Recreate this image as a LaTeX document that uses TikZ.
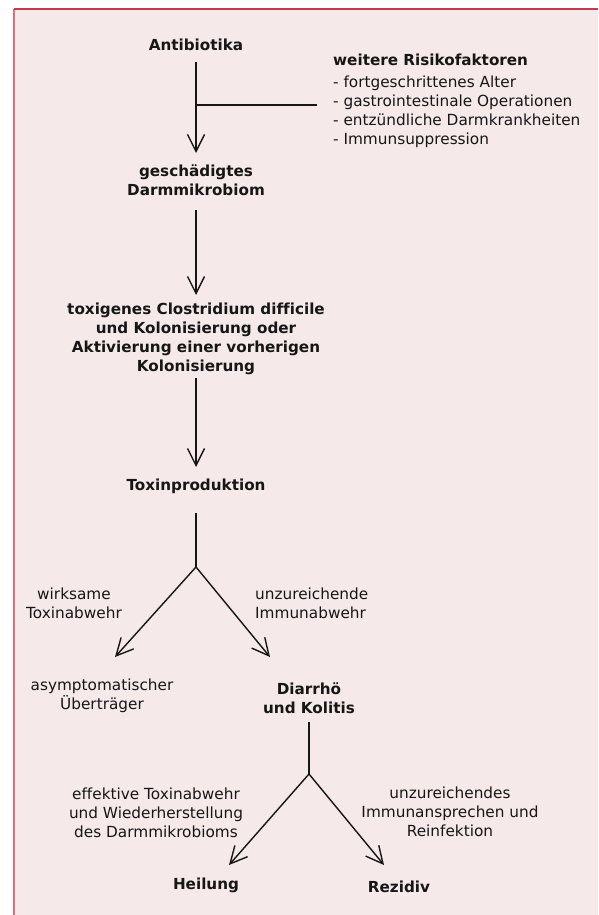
\documentclass[tikz,border=0pt]{standalone}
\usepackage{fontspec}
\setmainfont{DejaVu Sans}[Ligatures=NoCommon]
\usetikzlibrary{arrows.meta,calc}
\definecolor{bgpink}{RGB}{245,233,234}
\definecolor{topred}{RGB}{196,58,78}
\definecolor{leftred}{RGB}{214,110,124}
\definecolor{ink}{RGB}{22,22,22}
\begin{document}
\begin{tikzpicture}[x=1pt,y=-1pt,
  txt/.style={inner sep=0pt,text=ink,font=\fontsize{15.3}{19}\selectfont,align=center},
  btxt/.style={txt,font=\fontsize{15.2}{19}\selectfont\bfseries},
  ln/.style={draw=ink,line width=1.4pt},
  arr/.style={ln,-{Straight Barb[length=17pt,width=17pt,line width=1.4pt]}}]
\useasboundingbox (0,0) rectangle (598,915);
\fill[bgpink] (14,9) rectangle (598,915);
\draw[leftred,line width=1.6pt] (14,9) -- (14,915);
\draw[topred,line width=1.3pt] (14,9) -- (598,9);

\node[btxt] (anti) at (196,45) {Antibiotika};
\node[btxt,anchor=west] (rtitle) at (333,60) {weitere Risikofaktoren};
\node[txt,anchor=west,align=left] (rlist) at (333,111.5) {- fortgeschrittenes Alter\\- gastrointestinale Operationen\\- entzündliche Darmkrankheiten\\- Immunsuppression};
\node[btxt] (ges) at (196,180.5) {geschädigtes\\Darmmikrobiom};
\node[btxt] (clos) at (196,338.5) {toxigenes Clostridium difficile\\und Kolonisierung oder\\Aktivierung einer vorherigen\\Kolonisierung};
\node[btxt] (tox) at (196,486) {Toxinproduktion};
\node[txt] (wirk) at (74,603) {wirksame\\Toxinabwehr};
\node[txt,anchor=west,align=left] (unz1) at (255,603) {unzureichende\\Immunabwehr};
\node[txt] (asym) at (102,696) {asymptomatischer\\Überträger};
\node[btxt] (diar) at (309,698) {Diarrhö\\und Kolitis};
\node[txt] (eff) at (156,813) {effektive Toxinabwehr\\und Wiederherstellung\\des Darmmikrobioms};
\node[txt] (unz2) at (450,812) {unzureichendes\\Immunansprechen und\\Reinfektion};
\node[btxt] (heil) at (206,885) {Heilung};
\node[btxt] (rez) at (399,887) {Rezidiv};

\coordinate (j1) at (196,105);
\coordinate (b1) at (196,567);
\coordinate (t1) at (115,657);
\coordinate (t2) at (270,657);
\coordinate (b2) at (309,774);
\coordinate (t3) at (229,865);
\coordinate (t4) at (384,865);

\draw[arr] ([yshift=-17pt]anti.center) -- ([yshift=27.5pt]ges.center);
\draw[ln] (j1) -- ($(rlist.west |- j1)+(-16,0)$);
\draw[arr] ([yshift=-29.5pt]ges.center) -- ([yshift=43.5pt]clos.center);
\draw[arr] ([yshift=-39.5pt]clos.center) -- ([yshift=19pt]tox.center);
\draw[ln] ([yshift=-27pt]tox.center) -- (b1);
\draw[arr] (b1) -- (t1);
\draw[arr] (b1) -- (t2);
\draw[ln] ([yshift=-24pt]diar.center) -- (b2);
\draw[arr] (b2) -- (t3);
\draw[arr] (b2) -- (t4);
\end{tikzpicture}
\end{document}
